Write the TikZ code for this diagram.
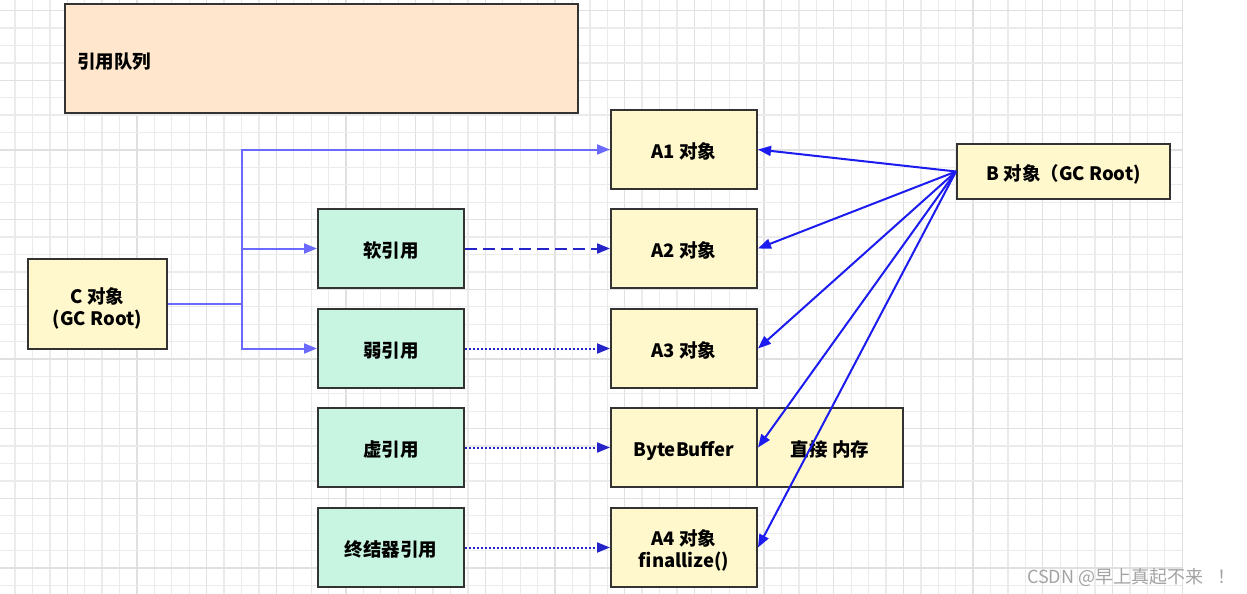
\documentclass[tikz,border=0pt]{standalone}
\usepackage{fontspec}
\setmainfont{Noto Sans CJK SC}
\usetikzlibrary{arrows.meta}
\definecolor{peach}{HTML}{FFE6CC}
\definecolor{ylw}{HTML}{FFF8CC}
\definecolor{mint}{HTML}{C8F5E2}
\definecolor{bordr}{HTML}{333333}
\definecolor{lblue}{HTML}{6A6AFF}
\definecolor{dblue}{HTML}{1C1CF0}
\definecolor{refblue}{HTML}{2424C8}
\definecolor{gridminor}{HTML}{EBEBEB}
\definecolor{gridmajor}{HTML}{E0E0E0}
\definecolor{wmgray}{HTML}{A3A3A3}
\begin{document}
\begin{tikzpicture}[x=1pt,y=-1pt,
  lbl/.style={font=\fontsize{18.5}{22}\selectfont\bfseries},
  box/.style={draw=bordr,line width=2pt,minimum width=146pt,minimum height=79pt,
    inner sep=0pt,lbl,text height=20pt,text depth=1.4pt},
  ybox/.style={box,fill=ylw},
  gbox/.style={box,fill=mint},
  tip/.style={-{Triangle[length=13pt,width=10pt]}},
  cedge/.style={tip,draw=lblue,line width=2pt},
  bedge/.style={tip,draw=dblue,line width=2pt},
  dashedge/.style={tip,draw=refblue,line width=2pt,dash pattern=on 12pt off 6pt},
  dotedge/.style={tip,draw=refblue,line width=2pt,dash pattern=on 2pt off 2pt},
  gline/.style={line width=1.3pt}
]
\useasboundingbox (0,0) rectangle (1247,594);
\fill[white] (0,0) rectangle (1247,594);
% grid
\foreach \i in {1,...,68}{
  \pgfmathtruncatemacro\m{mod(\i,4)}
  \ifnum\m=0 \def\gc{gridmajor}\else\def\gc{gridminor}\fi
  \draw[gline,\gc] ({-2.4+17.42*\i},0) -- ({-2.4+17.42*\i},594);
}
\foreach \j in {0,...,33}{
  \pgfmathtruncatemacro\m{mod(\j,4)}
  \ifnum\m=0 \def\gc{gridmajor}\else\def\gc{gridminor}\fi
  \draw[gline,\gc] (0,{10.6+17.42*\j}) -- (1182,{10.6+17.42*\j});
}
% nodes
\node[box,fill=peach,minimum width=513pt,minimum height=109pt] (queue) at (321.5,58.5) {};
\node[anchor=west,inner sep=0pt,lbl] (queueLabel) at (77,62) {引用队列};
\node[ybox] (A1) at (684,149.5) {A1 对象};
\node[ybox] (A2) at (684,248.5) {A2 对象};
\node[ybox] (A3) at (684,348.5) {A3 对象};
\node[ybox] (BB) at (684,447.5) {ByteBuffer};
\node[ybox] (DM) at (830,447.5) {直接 内存};
\node[ybox] (A4) at (684,547.5) {};
\node[lbl,align=center,inner sep=0pt] (A4text) at ([yshift=-3pt]A4.center) {A4 对象\\finallize()};
\node[gbox] (soft) at (391,248.5) {软引用};
\node[gbox] (weak) at (391,348.5) {弱引用};
\node[gbox] (phantom) at (391,447.5) {虚引用};
\node[gbox] (final) at (391,547.5) {终结器引用};
\node[ybox,minimum width=213pt,minimum height=55pt] (B) at (1063.5,171.5) {B 对象（GC Root)};
\node[ybox,minimum width=139pt,minimum height=90pt] (C) at (97.5,304) {};
\node[lbl,align=center,inner sep=0pt] (Ctext) at ([yshift=-4pt]C.center) {C 对象\\(GC Root)};
% connectors from C
\coordinate (J) at (242,304);
\draw[lblue,line width=2pt] (C.east) -- (J);
\draw[cedge] (J) |- (A1.west);
\draw[cedge] (J) |- (soft.west);
\draw[cedge] (J) |- (weak.west);
% reference edges
\draw[dashedge] (soft.east) -- (A2.west);
\draw[dotedge] (weak.east) -- (A3.west);
\draw[dotedge] (phantom.east) -- (BB.west);
\draw[dotedge] (final.east) -- (A4.west);
% connectors from B
\draw[bedge] (B.west) -- (A1.east);
\draw[bedge] (B.west) -- (A2.east);
\draw[bedge] (B.west) -- (A3.east);
\draw[bedge] (B.west) -- (BB.east);
\draw[bedge] (B.west) -- (A4.east);
% watermark
\node[anchor=west,inner sep=0pt,text=wmgray,font=\fontsize{18}{20}\selectfont] (wm) at (1027,577) {CSDN @早上真起不来\kern14pt！};
\end{tikzpicture}
\end{document}
